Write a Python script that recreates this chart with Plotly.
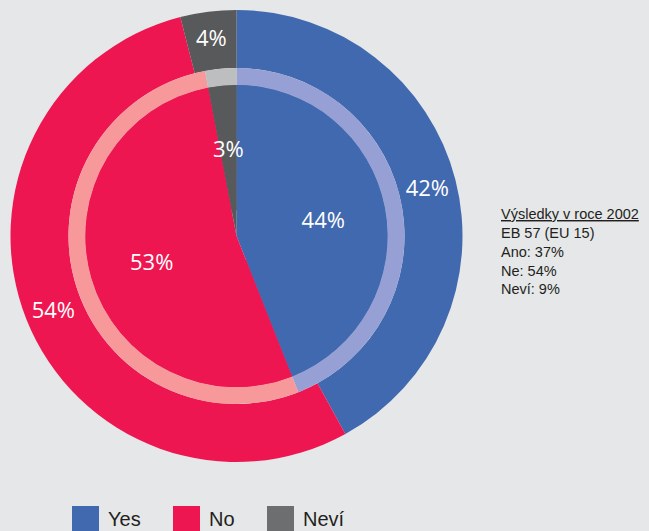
import math
import plotly.graph_objects as go

# ---- data ----
categories = ["Yes", "No", "Neví"]
outer_values = [42, 54, 4]     # outer ring
inner_values = [44, 53, 3]     # inner pie
outer_labels = ["42%", "54%", "4%"]
inner_labels = ["44%", "53%", "3%"]
note_lines = ["<u>Výsledky v roce 2002</u>", "EB 57 (EU 15)", "Ano: 37%", "Ne: 54%", "Neví: 9%"]

# ---- style ----
W, H = 649, 531
BG = "#e6e7e8"
main_colors = ["#4169b0", "#ee1651", "#58595b"]
light_colors = ["#96a0d4", "#f7999b", "#bcbec0"]
legend_colors = ["#4169b0", "#ee1651", "#6d6e70"]
TEXT_FONT = "Liberation Sans Narrow, Arial Narrow, Liberation Sans, sans-serif"

CX, CY = 236.5, 236.0
R_OUT, R_RING, R_IN = 226.0, 168.0, 151.0
INNER_HOLE = 0.17


def domain(r):
    return dict(
        x=[(CX - r) / W, (CX + r) / W],
        y=[(H - CY - r) / H, (H - CY + r) / H],
    )


common = dict(sort=False, direction="clockwise", rotation=0, showlegend=False,
              hoverinfo="skip", marker_line_width=0)
label_font = dict(family="Open Sans, Noto Sans, sans-serif", size=22, color="white")

# small slices get their label as an annotation (plotly would shrink it)
total_in = sum(inner_values)
small = [v / total_in < 0.08 for v in inner_values]
inner_trace_text = ["" if s else t for s, t in zip(small, inner_labels)]

fig = go.Figure()
# outer ring
fig.add_trace(go.Pie(labels=categories, values=outer_values, text=outer_labels,
                     textinfo="text", textposition="inside", insidetextorientation="horizontal",
                     insidetextfont=label_font, hole=R_RING / R_OUT,
                     marker_colors=main_colors, domain=domain(R_OUT), **common))
# light ring (inner proportions)
fig.add_trace(go.Pie(labels=categories, values=inner_values, textinfo="none",
                     hole=R_IN / R_RING, marker_colors=light_colors,
                     domain=domain(R_RING), **common))
# inner full pie
fig.add_trace(go.Pie(labels=categories, values=inner_values, textinfo="none",
                     marker_colors=main_colors, domain=domain(R_IN), **common))
# inner donut overlay carrying labels
fig.add_trace(go.Pie(labels=categories, values=inner_values, text=inner_trace_text,
                     textinfo="text", textposition="inside", insidetextorientation="horizontal",
                     insidetextfont=label_font, hole=INNER_HOLE,
                     marker_colors=main_colors, domain=domain(R_IN), **common))

annotations = []
cum = 0.0
for v, s, t in zip(inner_values, small, inner_labels):
    mid = (cum + v / 2) / total_in * 2 * math.pi
    cum += v
    if s:
        rr = R_IN * (1 + INNER_HOLE) / 2
        px = CX + rr * math.sin(mid)
        py = CY - rr * math.cos(mid)
        annotations.append(dict(xref="paper", yref="paper", x=px / W, y=(H - py) / H,
                                xanchor="center", yanchor="middle", showarrow=False,
                                text=t, font=label_font))

shapes = []
leg_x = [72, 173, 267]
for i, name in enumerate(categories):
    x0 = leg_x[i]
    shapes.append(dict(type="rect", xref="paper", yref="paper",
                       x0=x0 / W, x1=(x0 + 27) / W, y0=(H - 532) / H, y1=(H - 506) / H,
                       fillcolor=legend_colors[i], line_width=0))
    annotations.append(dict(xref="paper", yref="paper", x=(x0 + 34) / W, y=(H - 519) / H,
                            xanchor="left", yanchor="middle", showarrow=False, text=name,
                            font=dict(family=TEXT_FONT, size=20, color="#231f20")))

annotations.append(dict(xref="paper", yref="paper", x=499 / W, y=(H - 252) / H,
                        xanchor="left", yanchor="middle", align="left", showarrow=False,
                        text="<br>".join(note_lines),
                        font=dict(family=TEXT_FONT, size=14.5, color="#231f20")))

fig.update_layout(width=W, height=H, margin=dict(l=0, r=0, t=0, b=0),
                  paper_bgcolor=BG, plot_bgcolor=BG,
                  shapes=shapes, annotations=annotations)

fig.write_html("out.html", config={"displayModeBar": False},
               post_script="document.body.style.margin='0';document.body.style.background='%s';"
                           "document.body.style.overflow='hidden';" % BG)
